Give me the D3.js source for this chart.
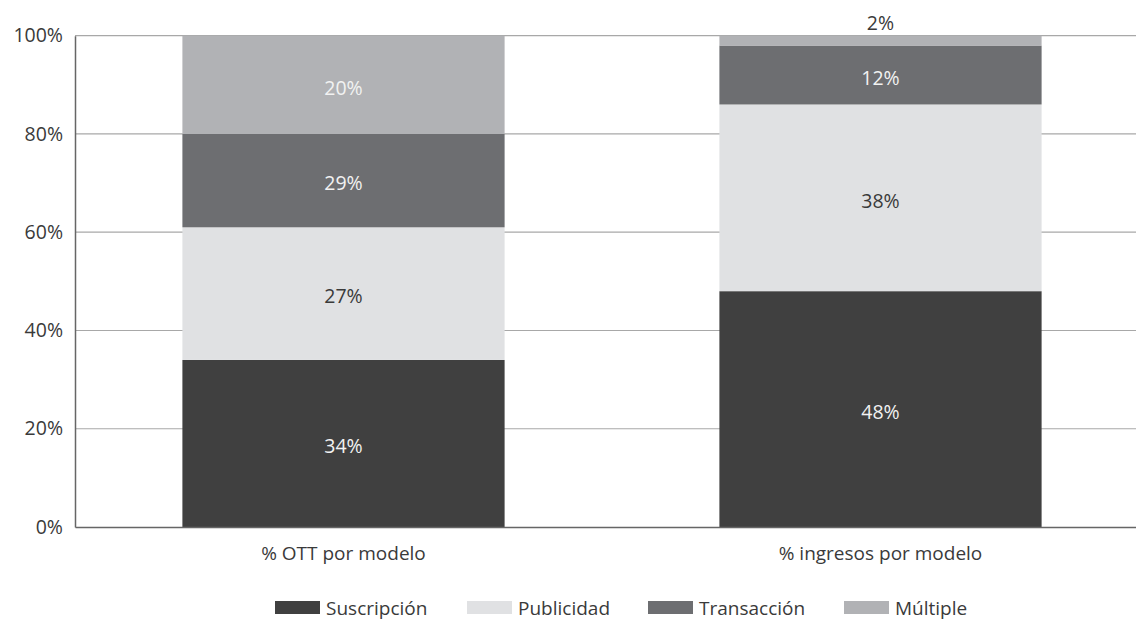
<!DOCTYPE html>
<html>
<head>
<meta charset="utf-8">
<script src="https://cdn.jsdelivr.net/npm/d3@7"></script>
<style>
  body { margin: 0; background: #fff; }
  text { font-family: "Open Sans", "Noto Sans", sans-serif; }
</style>
</head>
<body>
<div id="chart"></div>
<script>
const width = 1136;
const height = 621;

const categories = ["% OTT por modelo", "% ingresos por modelo"];
const seriesNames = ["Suscripción", "Publicidad", "Transacción", "Múltiple"];
const seriesColors = ["#404040", "#e0e1e3", "#6d6e71", "#b1b2b5"];
const labelColors = ["#f2f2f2", "#3a3a3a", "#f2f2f2", "#f2f2f2"];
// segment heights as drawn in the picture
const suscripcion = [34, 48];
const publicidad = [27, 38];
const transaccion = [19, 12];
const multiple = [20, 2];
// labels as printed on the bars (the source prints 29% on a 19-point segment)
const suscripcionLabels = ["34%", "48%"];
const publicidadLabels = ["27%", "38%"];
const transaccionLabels = ["29%", "12%"];
const multipleLabels = ["20%", "2%"];
const yTicks = [0, 20, 40, 60, 80, 100];

const seriesValues = [suscripcion, publicidad, transaccion, multiple];
const seriesLabels = [suscripcionLabels, publicidadLabels, transaccionLabels, multipleLabels];

// rows for d3.stack
const rows = categories.map((c, i) => {
  const row = { cat: c, idx: i };
  seriesNames.forEach((s, j) => (row[s] = seriesValues[j][i]));
  return row;
});

const stacked = d3.stack().keys(seriesNames)(rows);

const x = d3
  .scaleBand()
  .domain(categories)
  .range([75, 1149])
  .paddingInner(0.4)
  .paddingOuter(0.2);

const y = d3.scaleLinear().domain([0, 100]).range([527, 35.7]);

const svg = d3
  .select("#chart")
  .append("svg")
  .attr("width", width)
  .attr("height", height);

// gridlines
svg
  .append("g")
  .selectAll("line")
  .data(yTicks.filter((t) => t > 0))
  .enter()
  .append("line")
  .attr("x1", 75)
  .attr("x2", width)
  .attr("y1", (d) => y(d))
  .attr("y2", (d) => y(d))
  .attr("stroke", "#a8a8a8")
  .attr("stroke-width", 1.2);

// bars
const layer = svg
  .append("g")
  .selectAll("g")
  .data(stacked)
  .enter()
  .append("g")
  .attr("fill", (d, i) => seriesColors[i]);

layer
  .selectAll("rect")
  .data((d) => d)
  .enter()
  .append("rect")
  .attr("x", (d) => x(d.data.cat))
  .attr("width", x.bandwidth())
  .attr("y", (d) => y(d[1]))
  .attr("height", (d) => y(d[0]) - y(d[1]));

// value labels
stacked.forEach((s, i) => {
  s.forEach((d) => {
    const small = y(d[0]) - y(d[1]) < 20;
    svg
      .append("text")
      .attr("x", x(d.data.cat) + x.bandwidth() / 2)
      .attr("y", small ? y(d[1]) - 13 : (y(d[0]) + y(d[1])) / 2 + 3)
      .attr("dy", "0.35em")
      .attr("text-anchor", "middle")
      .attr("font-size", 19.5)
      .attr("fill", small ? "#3a3a3a" : labelColors[i])
      .text(seriesLabels[i][d.data.idx]);
  });
});

// axes
const yAxis = svg
  .append("g")
  .attr("transform", "translate(75,0)")
  .call(
    d3
      .axisLeft(y)
      .tickValues(yTicks)
      .tickSize(0)
      .tickPadding(12)
      .tickFormat((d) => d + "%")
  );
yAxis.select(".domain").attr("stroke", "#666").attr("stroke-width", 1.5);
yAxis.selectAll("text").attr("font-size", 19.5).attr("fill", "#3a3a3a");

const xAxis = svg
  .append("g")
  .attr("transform", "translate(0,527)")
  .call(d3.axisBottom(x).tickSize(0).tickPadding(20));
xAxis.select(".domain").attr("stroke", "#666").attr("stroke-width", 1.5);
xAxis.selectAll("text").attr("font-size", 19).attr("fill", "#3a3a3a");

// legend
const legendX = [275, 467, 648, 844];
const legend = svg
  .append("g")
  .selectAll("g")
  .data(seriesNames)
  .enter()
  .append("g")
  .attr("transform", (d, i) => `translate(${legendX[i]},601)`);

legend
  .append("rect")
  .attr("width", 45)
  .attr("height", 13)
  .attr("fill", (d, i) => seriesColors[i]);

legend
  .append("text")
  .attr("x", 51)
  .attr("y", 7)
  .attr("dy", "0.35em")
  .attr("font-size", 19)
  .attr("fill", "#3a3a3a")
  .text((d) => d);
</script>
</body>
</html>
